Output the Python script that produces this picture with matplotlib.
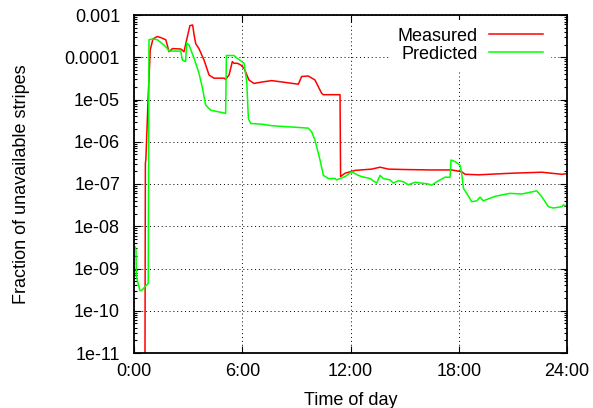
import numpy as np
import matplotlib
matplotlib.use("Agg")
import matplotlib.pyplot as plt
from matplotlib.ticker import LogLocator, NullFormatter

plt.rcParams['font.family'] = ['Liberation Sans', 'DejaVu Sans']

# time of day (hours) and fraction of unavailable stripes
meas_t = [0.60, 0.63, 0.66, 0.78, 0.90, 1.05, 1.29, 1.50, 1.76, 1.85, 1.94, 2.13,
          2.59, 2.77, 2.92, 3.10, 3.25, 3.33, 3.42, 3.60, 3.88, 4.16, 4.43, 4.99,
          5.08, 5.27, 5.45, 5.54, 5.73, 5.91, 6.10, 6.37, 6.65, 7.11, 7.63, 8.50,
          9.11, 9.29, 9.66, 10.03, 10.40, 10.50, 11.42, 11.45, 11.70, 12.25, 13.17,
          13.64, 14.10, 15.02, 16.50, 17.61, 18.16, 18.35, 19.09, 20.94, 22.60,
          23.70, 24.00]
meas_v = [1e-13, 3e-7, 4e-7, 1e-5, 1.5e-4, 2.7e-4, 3.1e-4, 2.9e-4, 2.6e-4, 1.9e-4,
          1.35e-4, 1.6e-4, 1.57e-4, 1.35e-4, 2.6e-4, 5.6e-4, 5.8e-4, 3.4e-4, 2.1e-4,
          1.6e-4, 8.6e-5, 3.8e-5, 3.2e-5, 3.2e-5, 3.0e-5, 3.8e-5, 7.9e-5, 7.2e-5,
          7.2e-5, 6.6e-5, 5.5e-5, 2.9e-5, 2.4e-5, 2.6e-5, 2.8e-5, 2.5e-5, 2.3e-5,
          3.5e-5, 3.6e-5, 2.9e-5, 1.4e-5, 1.3e-5, 1.3e-5, 1.5e-7, 1.8e-7, 2.1e-7,
          2.25e-7, 2.5e-7, 2.25e-7, 2.2e-7, 2.15e-7, 2.15e-7, 1.95e-7, 1.7e-7,
          1.65e-7, 1.8e-7, 1.9e-7, 1.7e-7, 1.75e-7]

pred_t = [0.05, 0.11, 0.13, 0.33, 0.42, 0.79, 0.83, 1.02, 1.29, 1.66, 1.85, 1.94,
          2.59, 2.68, 2.86, 2.92, 3.05, 3.33, 3.60, 3.79, 3.97, 4.25, 5.08, 5.12,
          5.54, 5.73, 6.10, 6.25, 6.34, 6.47, 7.11, 7.63, 9.66, 9.85, 10.03, 10.31,
          10.50, 10.77, 11.14, 11.23, 11.70, 12.07, 12.43, 12.62, 13.08, 13.45,
          13.64, 13.82, 14.19, 14.37, 14.65, 14.93, 15.20, 15.58, 16.31, 16.50,
          16.78, 17.24, 17.52, 17.57, 17.79, 18.07, 18.16, 18.26, 18.44, 18.72,
          19.00, 19.18, 19.36, 20.01, 20.38, 20.84, 21.49, 22.05, 22.32, 22.60,
          22.97, 23.24, 23.71, 23.80, 24.00]
pred_v = [3.3e-9, 2.8e-9, 6.5e-10, 3.0e-10, 3.0e-10, 4.5e-10, 2.6e-4, 2.7e-4,
          2.6e-4, 1.95e-4, 1.6e-4, 1.4e-4, 1.4e-4, 8.6e-5, 7.9e-5, 2.2e-4, 1.95e-4,
          9.4e-5, 4.2e-5, 1.9e-5, 7.4e-6, 5.6e-6, 4.7e-6, 1.1e-4, 1.1e-4, 9.4e-5,
          7.2e-5, 2.6e-5, 3.5e-6, 2.7e-6, 2.6e-6, 2.4e-6, 2.1e-6, 1.7e-6, 1.1e-6,
          3.7e-7, 1.6e-7, 1.35e-7, 1.35e-7, 1.25e-7, 1.5e-7, 1.95e-7, 1.6e-7,
          1.5e-7, 1.35e-7, 1.05e-7, 1.6e-7, 1.35e-7, 1.25e-7, 1.05e-7, 1.2e-7,
          1.13e-7, 9.6e-8, 1.1e-7, 1.0e-7, 9.4e-8, 1.13e-7, 1.45e-7, 1.45e-7,
          3.7e-7, 3.4e-7, 2.8e-7, 1.8e-7, 7.9e-8, 6.0e-8, 3.8e-8, 4.0e-8, 4.9e-8,
          4.0e-8, 5.1e-8, 5.5e-8, 6.0e-8, 5.8e-8, 6.5e-8, 6.9e-8, 5.0e-8, 2.9e-8,
          2.7e-8, 2.9e-8, 3.2e-8, 3.0e-8]

x_ticks = [0, 6, 12, 18, 24]
x_labels = ['0:00', '6:00', '12:00', '18:00', '24:00']
y_ticks = [1e-3, 1e-4, 1e-5, 1e-6, 1e-7, 1e-8, 1e-9, 1e-10, 1e-11]
y_labels = ['0.001', '0.0001', '1e-05', '1e-06', '1e-07', '1e-08', '1e-09',
            '1e-10', '1e-11']

fs = 13

fig = plt.figure(figsize=(5.93, 4.08), dpi=100)
ax = fig.add_axes([134 / 593, 1 - 353 / 408, 433 / 593, 338 / 408])

ax.plot(meas_t, meas_v, color='#ff0000', lw=1.1, label='Measured')
ax.plot(pred_t, pred_v, color='#00ff00', lw=1.1, label='Predicted')

ax.set_yscale('log')
ax.set_xlim(0, 24)
ax.set_ylim(1e-11, 1e-3)
ax.set_xticks(x_ticks, x_labels)
ax.set_yticks(y_ticks, y_labels)
ax.yaxis.set_minor_locator(LogLocator(base=10, subs=np.arange(2, 10), numticks=20))
ax.yaxis.set_minor_formatter(NullFormatter())

ax.tick_params(which='both', direction='in', top=True, right=True, labelsize=fs)
ax.tick_params(axis='y', pad=10)
ax.tick_params(axis='x', pad=7)
ax.tick_params(which='major', length=5, width=0.8)
ax.tick_params(which='minor', length=2.5, width=0.8)
for s in ax.spines.values():
    s.set_linewidth(1.3)

ax.grid(True, which='major', color='black', linestyle=(0, (1, 3)), linewidth=0.7)
ax.set_axisbelow(True)

ax.set_xlabel('Time of day', fontsize=fs, labelpad=9)
ax.set_ylabel('Fraction of unavailable stripes', fontsize=fs, labelpad=25)

leg = ax.legend(loc='upper right', bbox_to_anchor=(1.0 - 11 / 433, 1.0), markerfirst=False,
                handlelength=3.0, handletextpad=0.65, labelspacing=0.05,
                fontsize=fs, frameon=True, fancybox=False, framealpha=1,
                borderaxespad=0.3, borderpad=0.4)
leg.get_frame().set_edgecolor('none')

fig.savefig('out.png', dpi=100)
